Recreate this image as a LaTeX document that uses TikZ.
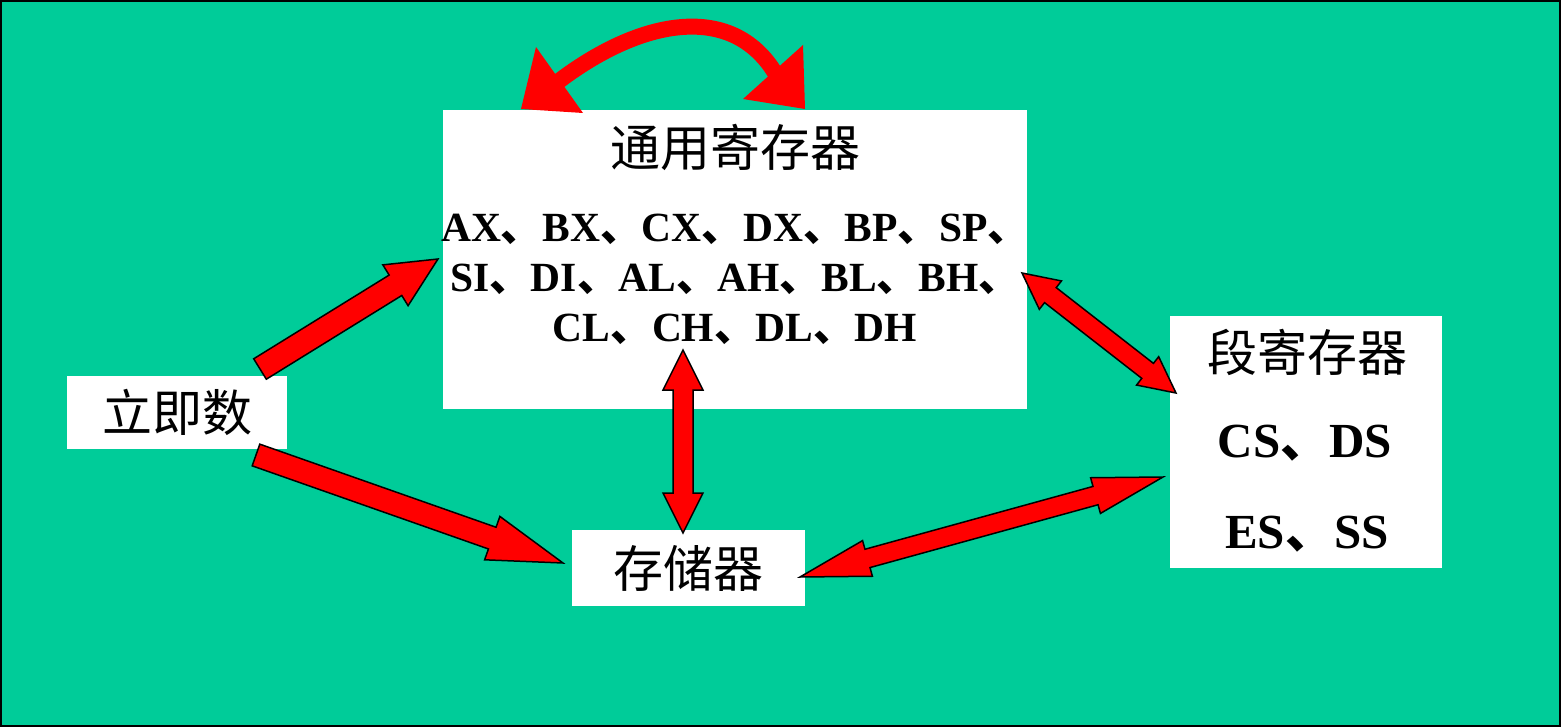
\documentclass[tikz,border=0pt]{standalone}
\usepackage{fontspec}
\setmainfont{Liberation Serif}
\newfontfamily\cjk{Noto Sans CJK SC}
\usetikzlibrary{calc}
\definecolor{bg}{RGB}{0,204,153}
\definecolor{arrowred}{RGB}{255,0,0}
\newcommand\dun{{\cjk 、}}
% single block arrow: #1 tail, #2 tip, #3 shaft half width, #4 head half width, #5 head length
\newcommand\singlefat[5]{%
  \path ($(#2)!#5!(#1)$) coordinate (fatN);
  \draw[blockarrow] ($(#1)!#3!90:(#2)$) -- ($(fatN)!#3!90:(#2)$) -- ($(fatN)!#4!90:(#2)$) -- (#2)
    -- ($(fatN)!#4!-90:(#2)$) -- ($(fatN)!#3!-90:(#2)$) -- ($(#1)!#3!-90:(#2)$) -- cycle;
}
% double block arrow: #1 tip A, #2 tip B
\newcommand\doublefat[5]{%
  \path ($(#1)!#5!(#2)$) coordinate (fatA) ($(#2)!#5!(#1)$) coordinate (fatB);
  \draw[blockarrow] (#1) -- ($(fatA)!#4!90:(#2)$) -- ($(fatA)!#3!90:(#2)$)
    -- ($(fatB)!#3!-90:(#1)$) -- ($(fatB)!#4!-90:(#1)$) -- (#2)
    -- ($(fatB)!#4!90:(#1)$) -- ($(fatB)!#3!90:(#1)$)
    -- ($(fatA)!#3!-90:(#2)$) -- ($(fatA)!#4!-90:(#2)$) -- cycle;
}
\begin{document}
\begin{tikzpicture}[x=1pt,y=-1pt,
  box/.style={fill=white, draw=none, inner sep=0pt, outer sep=0pt},
  zh/.style={font=\cjk\fontsize{50}{54}\selectfont},
  reg/.style={font=\bfseries\fontsize{41.5}{50}\selectfont, align=center},
  bigreg/.style={font=\bfseries\fontsize{49}{56}\selectfont},
  blockarrow/.style={fill=arrowred, draw=black, line width=1.5pt, line join=miter}]
\useasboundingbox (0,0) rectangle (1561,727);
\path[fill=bg, draw=black, line width=2pt] (1,1) rectangle (1560,726);

% boxes
\node[box, minimum width=584pt, minimum height=299pt] (gen) at (735,259.5) {};
\node[box, minimum width=220pt, minimum height=73pt, zh] (imm) at (177,412.5) {立即数};
\node[box, minimum width=233pt, minimum height=76pt, zh] (mem) at (688.5,568) {存储器};
\node[box, minimum width=272pt, minimum height=252pt] (seg) at (1306,442) {};

% texts
\node[zh] (gentitle) at (735,147) {通用寄存器};
\node[reg] (genregs) at (735,279) {AX\dun BX\dun CX\dun DX\dun BP\dun SP\dun\\
  SI\dun DI\dun AL\dun AH\dun BL\dun BH\dun\\
  CL\dun CH\dun DL\dun DH};
\node[zh] (segtitle) at (1307,352) {段寄存器};
\node[bigreg] (seg1) at (1305,443) {CS\dun DS};
\node[bigreg] (seg2) at (1307,534) {ES\dun SS};

% arrow end points
\coordinate (a1t) at (260,369);  \coordinate (a1h) at (438,259);
\coordinate (a2t) at (256,455);  \coordinate (a2h) at (563,563);
\coordinate (a3a) at (1022,273); \coordinate (a3b) at (1176,393);
\coordinate (a4a) at (800,577);  \coordinate (a4b) at (1163,477);
\coordinate (a5a) at (683,350);  \coordinate (a5b) at (683,533);

\singlefat{a1t}{a1h}{12pt}{24pt}{50pt}
\singlefat{a2t}{a2h}{11.5pt}{23pt}{75pt}
\doublefat{a3a}{a3b}{9.5pt}{18pt}{36pt}
\doublefat{a4a}{a4b}{9.5pt}{18.5pt}{70pt}
\doublefat{a5a}{a5b}{10pt}{20pt}{40pt}

% curved arrow on top of the general registers box
\coordinate (cL) at (555,84);
\coordinate (cR) at (778,78);
\coordinate (cLtip) at (521,109);
\coordinate (cRtip) at (805,109);
\draw[arrowred, line width=16pt] (cL) .. controls (640,18) and (735,0) .. (cR);
\fill[arrowred] (cLtip) -- (536,47) -- (583,113) -- cycle;
\fill[arrowred] (cRtip) -- (803,45) -- (743,99) -- cycle;
\end{tikzpicture}
\end{document}
